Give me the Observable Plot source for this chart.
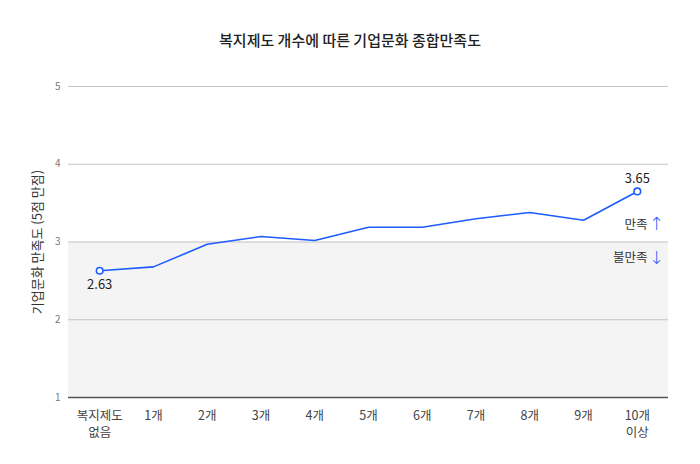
<!DOCTYPE html>
<html><head><meta charset="utf-8">
<script src="https://cdn.jsdelivr.net/npm/d3@7"></script>
<script src="https://cdn.jsdelivr.net/npm/@observablehq/plot@0.6"></script>
<style>
body{margin:0;background:#fff;font-family:"Noto Sans CJK KR","Noto Sans",sans-serif;}
#title{margin-top:20px;height:40px;line-height:40px;text-align:center;font-size:15px;color:#222;font-weight:500;}
</style></head>
<body>
<div id="title">복지제도 개수에 따른 기업문화 종합만족도</div>
<div id="chart"></div>
<script>
const categories = ["복지제도\n없음","1개","2개","3개","4개","5개","6개","7개","8개","9개","10개\n이상"];
const values = [2.63,2.68,2.97,3.07,3.02,3.19,3.19,3.30,3.38,3.28,3.65];
const yTicks = [1,2,3,4,5];
const highlighted = [0, 10];
const yLabel = "기업문화 만족도 (5점 만점)";
const data = categories.map((c,i)=>({c, v: values[i], i}));
const blue = "#1d5cff";
const chart = Plot.plot({
  width: 700, height: 404,
  marginTop: 26, marginBottom: 67, marginLeft: 68, marginRight: 32,
  style: {fontFamily: '"Noto Sans CJK KR","Noto Sans",sans-serif', background: "#fff"},
  x: {type: "point", domain: categories, padding: 0.58, round: false, label: null},
  y: {domain: [1,5], ticks: yTicks, label: null},
  marks: [
    Plot.rect([{}], {y1: 1, y2: 3, fill: "#f4f4f4"}),
    Plot.ruleY([2,3,4,5], {stroke: "#c4c4c4", strokeWidth: 1}),
    Plot.ruleY([1], {stroke: "#555", strokeWidth: 1.5}),
    Plot.axisY({ticks: yTicks, tickFormat: "d", tickSize: 0, tickPadding: 8, fontSize: 10, color: "#777", label: null}),
    Plot.text([yLabel], {text: d => d, frameAnchor: "left", textAnchor: "middle", rotate: -90, dx: -31, fontSize: 13, fill: "#333"}),
    Plot.axisX({tickSize: 0, tickPadding: 10, fontSize: 12.5, color: "#444", lineHeight: 1.4}),
    Plot.line(data, {x: "c", y: "v", stroke: blue, strokeWidth: 1.6}),
    Plot.dot(data.filter(d => highlighted.includes(d.i)), {x: "c", y: "v", r: 3.3, fill: "#fff", stroke: blue, strokeWidth: 1.6}),
    Plot.text(data.filter(d => d.i === 0), {x: "c", y: "v", text: d => d.v.toFixed(2), dy: 14, fontSize: 13, fill: "#222"}),
    Plot.text(data.filter(d => d.i === 10), {x: "c", y: "v", text: d => d.v.toFixed(2), dy: -13, fontSize: 13, fill: "#222"}),
    Plot.text([3.225], {y: d => d, frameAnchor: "right", text: () => "만족", textAnchor: "end", dx: -21, fontSize: 12.5, fill: "#333"}),
    Plot.text([3.225], {y: d => d, frameAnchor: "right", text: () => "↑", textAnchor: "middle", dx: -12, fontSize: 18, fontFamily: "DejaVu Sans", fontWeight: 300, fill: blue}),
    Plot.text([2.79], {y: d => d, frameAnchor: "right", text: () => "불만족", textAnchor: "end", dx: -21, fontSize: 12.5, fill: "#333"}),
    Plot.text([2.79], {y: d => d, frameAnchor: "right", text: () => "↓", textAnchor: "middle", dx: -12, fontSize: 18, fontFamily: "DejaVu Sans", fontWeight: 300, fill: blue})
  ]
});
document.getElementById("chart").append(chart);
</script>
</body></html>
